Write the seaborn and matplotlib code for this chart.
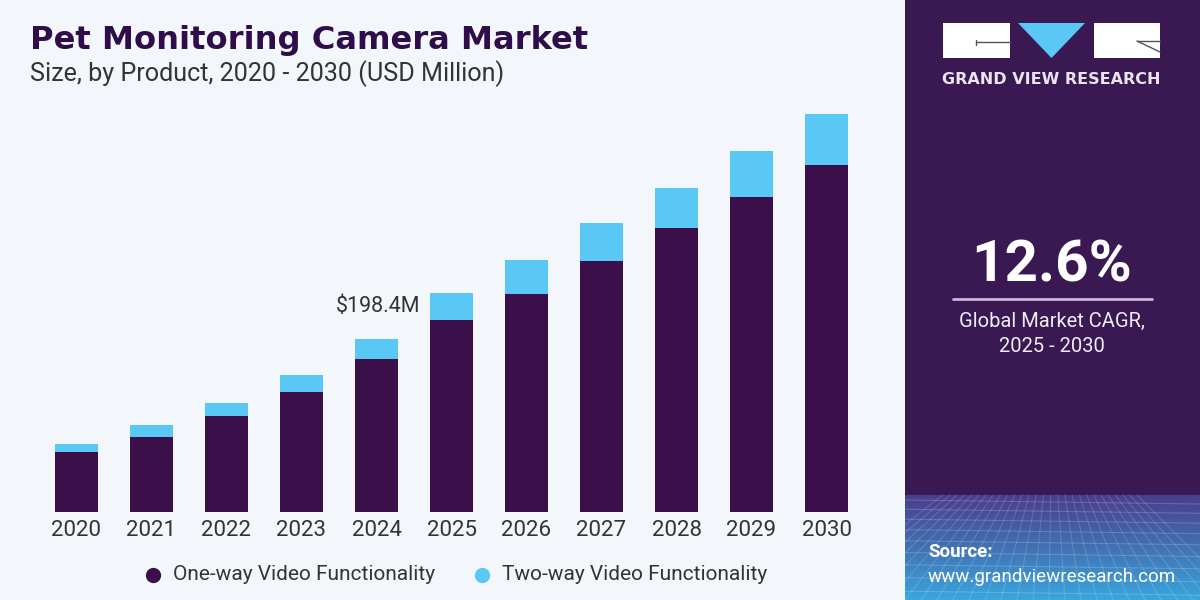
import numpy as np
import pandas as pd
import matplotlib
matplotlib.use("Agg")
import matplotlib.pyplot as plt
from matplotlib.patches import Rectangle, Polygon
import seaborn as sns

# ---- data (USD Million) ----
years = ["2020", "2021", "2022", "2023", "2024", "2025", "2026", "2027", "2028", "2029", "2030"]
one_way = [68.8, 86.0, 110.1, 137.6, 175.5, 220.2, 250.0, 287.9, 325.7, 361.3, 398.0]
two_way = [9.2, 13.8, 14.9, 19.5, 22.9, 31.0, 39.0, 43.6, 45.9, 52.8, 58.5]
series_names = ["One-way Video Functionality", "Two-way Video Functionality"]
highlight_label = "$198.4M"
highlight_year = "2024"
cagr_text = "12.6%"
cagr_caption = "Global Market CAGR,\n2025 - 2030"

DARK = "#3b0f4a"
BLUE = "#5ac8f5"
BG = "#f3f7fb"
PANEL = "#3a1952"
TEXT = "#333333"

sns.set_theme(style="white")
plt.rcParams["font.family"] = ["Roboto", "DejaVu Sans"]

df = pd.DataFrame({"year": years, "one_way": one_way, "two_way": two_way})
df["total"] = df["one_way"] + df["two_way"]

W, H = 1200, 600
fig = plt.figure(figsize=(12, 6), dpi=100, facecolor=BG)

# main axes: baseline at y=512px, top at 100px
ax = fig.add_axes([20 / W, (H - 512) / H, (880 - 20) / W, (512 - 100) / H])
ax.set_facecolor(BG)
sns.barplot(data=df, x="year", y="total", color=BLUE, saturation=1, width=0.58,
            edgecolor="none", ax=ax)
sns.barplot(data=df, x="year", y="one_way", color=DARK, saturation=1, width=0.58,
            edgecolor="none", ax=ax)
ax.set_xlim(-0.753, 10.713)
ax.set_ylim(0, 472.6)
ax.set_xlabel("")
ax.set_ylabel("")
ax.set_yticks([])
for s in ax.spines.values():
    s.set_visible(False)
ax.tick_params(axis="x", length=0, pad=6, labelsize=16, labelcolor=TEXT)

# highlight label
hi = years.index(highlight_year)
ax.text(hi + 0.58, df["total"][hi] + 37, highlight_label, ha="right", va="center",
        fontsize=15.5, color=TEXT)

# overlay axes in pixel coordinates for titles / legend / panel
ov = fig.add_axes([0, 0, 1, 1], facecolor="none")
ov.set_xlim(0, W)
ov.set_ylim(H, 0)
ov.axis("off")

ov.text(30, 40, "Pet Monitoring Camera Market", ha="left", va="center",
        fontsize=23.1, fontweight="bold", color="#2e0d4a", family=["DejaVu Sans"])
ov.text(30, 74, "Size, by Product, 2020 - 2030 (USD Million)", ha="left",
        va="center", fontsize=18.1, color=TEXT)

# legend
lx = [153, 482]
for i, (name, col) in enumerate(zip(series_names, [DARK, BLUE])):
    ov.plot([lx[i]], [575], marker="o", markersize=11, color=col, markeredgewidth=0)
    ov.text(lx[i] + 20, 575, name, ha="left", va="center", fontsize=15, color=TEXT)

# right panel
ov.add_patch(Rectangle((905, 0), 295, 495, facecolor=PANEL, edgecolor="none", zorder=1))
grad = np.linspace(0, 1, 100)[:, None]
c1 = np.array(matplotlib.colors.to_rgb("#4a3d8c"))
c2 = np.array(matplotlib.colors.to_rgb("#3aa6dc"))
img = c1[None, None, :] * (1 - grad[..., None]) + c2[None, None, :] * grad[..., None]
img = np.repeat(img, 2, axis=1)
ov.imshow(img, extent=(905, 1200, 600, 495), aspect="auto", zorder=1)
# faint grid lines (decorative)
for k in range(12):
    yy = 500 + k * 9 + k * k * 0.3
    ov.plot([905, 1200], [yy, yy + 4], color="white", alpha=0.18, lw=0.8, zorder=2)
for k in range(-6, 22):
    x0 = 905 + k * 16
    ov.plot([1052 + (x0 - 1052) * 0.45, x0], [495, 600], color="white", alpha=0.15,
            lw=0.8, zorder=2)
ov.set_xlim(0, W)
ov.set_ylim(H, 0)

# logo
ov.add_patch(Rectangle((943, 23), 67, 35, facecolor="white", edgecolor="none", zorder=3))
ov.plot([976, 1010], [42, 42], color="#555555", lw=1, zorder=4)
ov.plot([976, 976], [40, 45], color="#555555", lw=1, zorder=4)
ov.add_patch(Polygon([(1018, 23), (1085, 23), (1051.5, 58)], closed=True,
                     facecolor=BLUE, edgecolor="none", zorder=3))
ov.add_patch(Rectangle((1094, 23), 66, 35, facecolor="white", edgecolor="none", zorder=3))
ov.plot([1137, 1160], [41, 41], color="#555555", lw=1, zorder=4)
ov.plot([1137, 1160], [41, 52], color="#555555", lw=1, zorder=4)
ov.text(1051.5, 79, "GRAND VIEW RESEARCH", ha="center", va="center", fontsize=11.5,
        fontweight="bold", color="#e9e4f0", family=["DejaVu Sans"], zorder=4)

# CAGR
ov.text(1052, 266, cagr_text, ha="center", va="center", fontsize=42, fontweight="bold",
        color="white", zorder=4)
ov.plot([953, 1152], [299, 299], color="#c8b6dc", lw=2, zorder=4)
ov.text(1052, 334, cagr_caption, ha="center", va="center", fontsize=14.5, color="#f0ecf5",
        linespacing=1.4, zorder=4)

# source
ov.text(928, 552, "Source:", ha="left", va="center", fontsize=13.5, fontweight="bold",
        color="white", zorder=4)
ov.text(928, 577, "www.grandviewresearch.com", ha="left", va="center", fontsize=13.5,
        color="white", zorder=4)

fig.savefig("out.png", dpi=100, facecolor=BG)
